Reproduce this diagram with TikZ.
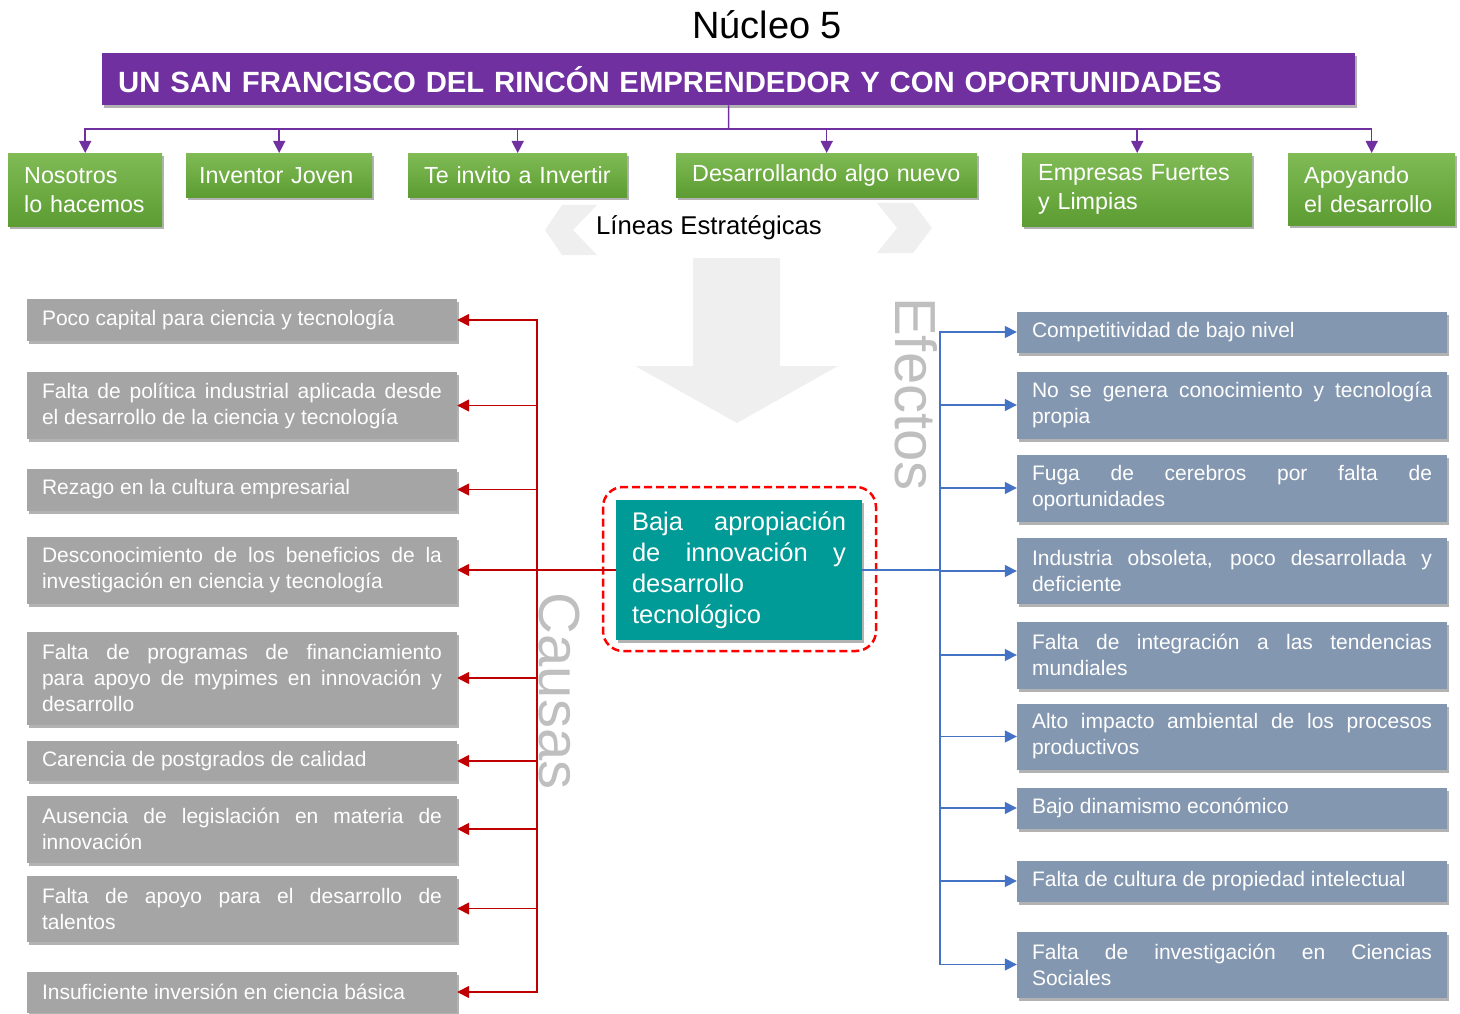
\documentclass[tikz,border=0pt]{standalone}
\usepackage{fontspec}
\setmainfont{Liberation Sans}
\usetikzlibrary{shapes.geometric, arrows.meta, shadows}
\hyphenpenalty=10000
\tolerance=10000

\definecolor{nucleopurple}{HTML}{7030A0}
\definecolor{greentop}{HTML}{80BB55}
\definecolor{greenbot}{HTML}{5C9C32}
\definecolor{causegray}{HTML}{A5A5A5}
\definecolor{effectblue}{HTML}{8497B0}
\definecolor{coreteal}{HTML}{009A97}
\definecolor{causered}{HTML}{C00000}
\definecolor{effectcol}{HTML}{4472C4}
\definecolor{ghost}{HTML}{EFEFEF}
\definecolor{labelgray}{HTML}{BFBFBF}

\tikzstyle{boxshadow} = [drop shadow={shadow xshift=1.5pt, shadow yshift=-3pt, opacity=0.3, fill=black}]
\tikzstyle{banner} = [rectangle, fill=nucleopurple, text=white, font=\fontsize{29.3}{36}\selectfont\bfseries, minimum width=1253pt, minimum height=52pt, text width=1221pt, inner xsep=16pt, align=left, boxshadow]
\tikzstyle{linebox} = [rectangle, top color=greentop, bottom color=greenbot, text=white, font=\fontsize{23.3}{29}\selectfont, inner xsep=16pt, align=left, anchor=north west, boxshadow]
\tikzstyle{cause} = [rectangle, fill=causegray, text=white, font=\fontsize{21}{26}\selectfont, text width=400pt, inner xsep=15pt, minimum height=42pt, align=justify, boxshadow]
\tikzstyle{effect} = [cause, fill=effectblue]
\tikzstyle{core} = [rectangle, fill=coreteal, text=white, font=\fontsize{25.5}{31}\selectfont, text width=214pt, inner xsep=16pt, minimum height=140pt, align=justify, boxshadow]
\tikzstyle{coreframe} = [rectangle, draw=red, line width=2.5pt, dash pattern=on 8pt off 4pt, rounded corners=20pt, minimum width=273pt, minimum height=164pt]
\tikzstyle{sidelabel} = [rotate=-90, text=labelgray, font=\fontsize{58}{60}\selectfont]
\tikzstyle{purpleline} = [draw=nucleopurple, line width=1.5pt]
\tikzstyle{purplearrow} = [purpleline, -{Triangle[length=12pt, width=12pt]}]
\tikzstyle{causeline} = [draw=causered, line width=1.5pt]
\tikzstyle{causearrow} = [causeline, -{Triangle[length=12pt, width=12pt]}]
\tikzstyle{effectline} = [draw=effectcol, line width=1.5pt]
\tikzstyle{effectarrow} = [effectline, -{Triangle[length=12pt, width=12pt]}]

\begin{document}
\begin{tikzpicture}[x=1pt, y=-1pt]
\useasboundingbox (0,0) rectangle (1460,1014);

% background shapes
\fill[ghost] (545,230) -- (562,205) -- (597,205) -- (573,230) -- (597,255) -- (562,255) -- cycle;
\fill[ghost] (932,228) -- (913,203) -- (877,203) -- (897,228) -- (877,253) -- (913,253) -- cycle;
\fill[ghost] (693,258) -- (780,258) -- (780,366) -- (838,366) -- (737,423) -- (635,366) -- (693,366) -- cycle;

% header
\node (nucleo) at (767,25) [font=\fontsize{38}{46}\selectfont] {Núcleo 5};
\node (head) [banner, anchor=north west] at (102,53) {UN SAN FRANCISCO DEL RINCÓN EMPRENDEDOR Y CON OPORTUNIDADES};
\coordinate (bus) at (728.5,129);

% strategic lines
\node (g1) [linebox, text width=122pt, minimum height=73pt] at (8,153) {Nosotros\\lo hacemos};
\node (g2) [linebox, inner xsep=13pt, text width=160pt, minimum height=44pt] at (186,153) {Inventor Joven};
\node (g3) [linebox, text width=187pt, minimum height=44pt] at (408,153) {Te invito a Invertir};
\node (g4) [linebox, text width=269pt, minimum height=44pt] at (676,153) {Desarrollando algo nuevo};
\node (g5) [linebox, text width=198pt, minimum height=73pt] at (1022,153) {Empresas Fuertes\\y Limpias};
\node (g6) [linebox, text width=135pt, minimum height=72pt] at (1288,153) {Apoyando\\el desarrollo};
\node (lineas) at (709,228) [font=\fontsize{25.7}{30}\selectfont] {Líneas Estratégicas};

% side labels
\node (efectos) [sidelabel] at (916,394) {Efectos};
\node (causas) [sidelabel] at (559,691) {Causas};

% problem
\node (core) [core] at (739,570) {Baja apropiación\linebreak de innovación y\linebreak desarrollo\newline tecnológico};
\node (frame) [coreframe] at (739.5,569) {};

% causes
\node (c1) [cause] at (242,320) {Poco capital para ciencia y tecnología};
\node (c2) [cause, minimum height=67pt] at (242,405.5) {Falta de política industrial aplicada desde\linebreak el desarrollo de la ciencia y tecnología};
\node (c3) [cause] at (242,489.5) {Rezago en la cultura empresarial};
\node (c4) [cause, minimum height=67pt] at (242,570) {Desconocimiento de los beneficios de la\linebreak investigación en ciencia y tecnología};
\node (c5) [cause, minimum height=93pt] at (242,678) {Falta de programas de financiamiento\linebreak para apoyo de mypimes en innovación y desarrollo};
\node (c6) [cause, minimum height=40pt] at (242,761) {Carencia de postgrados de calidad};
\node (c7) [cause, minimum height=67pt] at (242,829) {Ausencia de legislación en materia de\linebreak innovación};
\node (c8) [cause, minimum height=66pt] at (242,908.5) {Falta de apoyo para el desarrollo de\linebreak talentos};
\node (c9) [cause, minimum height=41pt] at (242,992) {Insuficiente inversión en ciencia básica};

% effects
\node (e1) [effect, minimum height=41pt] at (1232,332) {Competitividad de bajo nivel};
\node (e2) [effect, minimum height=67pt] at (1232,405) {No se genera conocimiento y tecnología\linebreak propia};
\node (e3) [effect, minimum height=67pt] at (1232,488) {Fuga de cerebros por falta de\linebreak oportunidades};
\node (e4) [effect, minimum height=66pt] at (1232,571) {Industria obsoleta, poco desarrollada y\linebreak deficiente};
\node (e5) [effect, minimum height=67pt] at (1232,655) {Falta de integración a las tendencias\linebreak mundiales};
\node (e6) [effect, minimum height=66pt] at (1232,736.5) {Alto impacto ambiental de los procesos\linebreak productivos};
\node (e7) [effect, minimum height=41pt] at (1232,808) {Bajo dinamismo económico};
\node (e8) [effect, minimum height=41pt] at (1232,881) {Falta de cultura de propiedad intelectual};
\node (e9) [effect, minimum height=66pt] at (1232,964.5) {Falta de investigación en Ciencias\linebreak Sociales};

% connectors
\draw [purpleline] (head.south) -- (bus);
\foreach \i in {1,...,6}
  \draw [purplearrow] (bus) -| (g\i.north);

\coordinate (cbus) at (537,570);
\draw [causeline] (core.west) -- (cbus);
\foreach \i in {1,...,9}
  \draw [causearrow] (cbus) |- (c\i.east);

\coordinate (ebus) at (940,570);
\draw [effectline] (core.east) -- (ebus);
\foreach \i in {1,...,9}
  \draw [effectarrow] (ebus) |- (e\i.west);

\end{tikzpicture}
\end{document}
